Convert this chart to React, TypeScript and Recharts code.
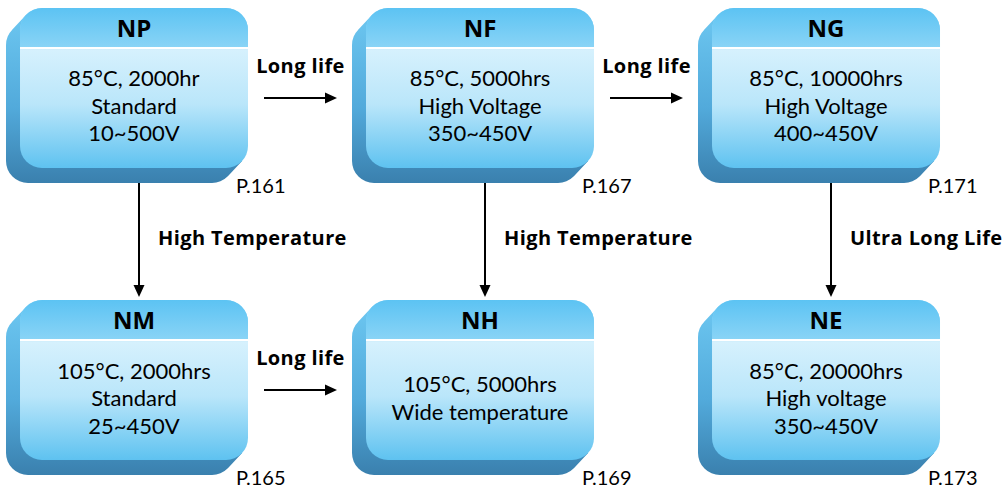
import React from "react";
import { ScatterChart, Scatter, XAxis, YAxis, ReferenceLine } from "recharts";

// series boxes
const seriesCodes = ["NP", "NF", "NG", "NM", "NH", "NE"];
const seriesColumns = [0, 1, 2, 0, 1, 2];
const seriesRows = [0, 0, 0, 1, 1, 1];
const seriesSpecs = [
    ["85°C, 2000hr", "Standard", "10~500V"],
    ["85°C, 5000hrs", "High Voltage", "350~450V"],
    ["85°C, 10000hrs", "High Voltage", "400~450V"],
    ["105°C, 2000hrs", "Standard", "25~450V"],
    ["105°C, 5000hrs", "Wide temperature"],
    ["85°C, 20000hrs", "High voltage", "350~450V"],
];
const seriesPages = ["P.161", "P.167", "P.171", "P.165", "P.169", "P.173"];

// arrows between boxes
const linkFrom = ["NP", "NF", "NM", "NP", "NF", "NG"];
const linkTo = ["NF", "NG", "NH", "NM", "NH", "NE"];
const linkLabels = [
    "Long life",
    "Long life",
    "Long life",
    "High Temperature",
    "High Temperature",
    "Ultra Long Life",
];

const nodes = seriesCodes.map((code, i) => ({
    x: seriesColumns[i],
    y: seriesRows[i],
    code,
    lines: seriesSpecs[i],
    page: seriesPages[i],
}));

const pointOf = (code: string) => {
    const i = seriesCodes.indexOf(code);
    return { x: seriesColumns[i], y: seriesRows[i] };
};

const FACE_W = 228;
const FACE_H = 160;
const DEPTH_X = 14;
const DEPTH_Y = 15;
const RADIUS = 22;
const HEADER = 40;

const bodyFont = "Lato, 'Open Sans', sans-serif";
const boldFont = "'Open Sans', Lato, sans-serif";

const roundedRect = (x: number, y: number, w: number, h: number, r: number) =>
    `M${x + r},${y} H${x + w - r} A${r},${r} 0 0 1 ${x + w},${y + r} V${y + h - r} ` +
    `A${r},${r} 0 0 1 ${x + w - r},${y + h} H${x + r} A${r},${r} 0 0 1 ${x},${y + h - r} ` +
    `V${y + r} A${r},${r} 0 0 1 ${x + r},${y} Z`;

const topRounded = (x: number, y: number, w: number, h: number, r: number) =>
    `M${x},${y + h} L${x},${y + r} A${r},${r} 0 0 1 ${x + r},${y} ` +
    `L${x + w - r},${y} A${r},${r} 0 0 1 ${x + w},${y + r} L${x + w},${y + h} Z`;

// back face plus the band swept between it and the front face
const sidePath = (fx: number, fy: number) => {
    const len = Math.hypot(DEPTH_X, DEPTH_Y);
    const nx = (DEPTH_Y / len) * RADIUS;
    const ny = (DEPTH_X / len) * RADIUS;
    const tl = { x: fx + RADIUS - nx, y: fy + RADIUS - ny };
    const br = { x: fx + FACE_W - RADIUS + nx, y: fy + FACE_H - RADIUS + ny };
    const band =
        `M${tl.x},${tl.y} L${br.x},${br.y} L${br.x - DEPTH_X},${br.y + DEPTH_Y} ` +
        `L${tl.x - DEPTH_X},${tl.y + DEPTH_Y} Z`;
    return roundedRect(fx - DEPTH_X, fy + DEPTH_Y, FACE_W, FACE_H, RADIUS) + " " + band;
};

const SeriesBox = (props: any) => {
    const { cx, cy, payload } = props;
    const fx = cx - FACE_W / 2;
    const fy = cy - 87;
    const n = payload.lines.length;
    return (
        <g>
            <path d={sidePath(fx, fy)} fill="url(#sideFill)" />
            <rect x={fx} y={fy} width={FACE_W} height={FACE_H} rx={RADIUS} fill="url(#bodyFill)" />
            <path d={topRounded(fx, fy, FACE_W, HEADER, RADIUS)} fill="url(#headFill)" />
            <line x1={fx} y1={fy + HEADER} x2={fx + FACE_W} y2={fy + HEADER} stroke="#ffffff" strokeWidth={2} />
            <text
                x={cx}
                y={fy + 29}
                textAnchor="middle"
                fontFamily={boldFont}
                fontWeight={700}
                fontSize={24}
                fill="#000"
            >
                {payload.code}
            </text>
            {payload.lines.map((line: string, i: number) => (
                <text
                    key={line}
                    x={cx}
                    y={fy + 106 + (i - (n - 1) / 2) * 27.5}
                    textAnchor="middle"
                    fontFamily={bodyFont}
                    fontSize={22}
                    fill="#000"
                >
                    {line}
                </text>
            ))}
            <text x={fx + FACE_W - 12} y={fy + FACE_H + 25} fontFamily={bodyFont} fontSize={20} fill="#000">
                {payload.page}
            </text>
        </g>
    );
};

const LinkArrow = (props: any) => {
    const { x1, y1, x2, y2, text } = props;
    const across = Math.abs(y2 - y1) < 1;
    if (across) {
        const y = y1 + 3;
        const a = x1 + 130;
        const b = x2 - 143;
        return (
            <g>
                <line x1={a} y1={y} x2={b - 10} y2={y} stroke="#000" strokeWidth={2} />
                <polygon points={`${b},${y} ${b - 12},${y - 5.5} ${b - 12},${y + 5.5}`} fill="#000" />
                <text
                    x={(a + b) / 2}
                    y={y - 25}
                    textAnchor="middle"
                    fontFamily={boldFont}
                    fontWeight={700}
                    fontSize={20}
                    letterSpacing={0.4}
                    fill="#000"
                >
                    {text}
                </text>
            </g>
        );
    }
    const x = x1 + 5;
    const a = y1 + 83;
    const b = y2 - 90;
    return (
        <g>
            <line x1={x} y1={a} x2={x} y2={b - 10} stroke="#000" strokeWidth={2} />
            <polygon points={`${x},${b} ${x - 5.5},${b - 12} ${x + 5.5},${b - 12}`} fill="#000" />
            <text
                x={x + 19}
                y={(a + b) / 2 + 8}
                fontFamily={boldFont}
                fontWeight={700}
                fontSize={20}
                letterSpacing={0.4}
                fill="#000"
            >
                {text}
            </text>
        </g>
    );
};

const App = () => {
    return (
        <div style={{ position: "absolute", left: 0, top: 0, width: 1006, height: 490, background: "#fff" }}>
            <ScatterChart width={1006} height={490} margin={{ top: 0, right: 0, bottom: 0, left: 0 }}>
                <defs>
                    <linearGradient id="sideFill" x1="0" y1="0" x2="0" y2="1">
                        <stop offset="0%" stopColor="#6cc6f0" />
                        <stop offset="55%" stopColor="#52aadb" />
                        <stop offset="100%" stopColor="#3a80ae" />
                    </linearGradient>
                    <linearGradient id="headFill" x1="0" y1="0" x2="0" y2="1">
                        <stop offset="0%" stopColor="#5cc3f3" />
                        <stop offset="100%" stopColor="#8ad4f6" />
                    </linearGradient>
                    <linearGradient id="bodyFill" x1="0" y1="0" x2="0" y2="1">
                        <stop offset="0%" stopColor="#8ad4f6" />
                        <stop offset="25%" stopColor="#8ad4f6" />
                        <stop offset="26%" stopColor="#d6f1fd" />
                        <stop offset="60%" stopColor="#bae6fa" />
                        <stop offset="100%" stopColor="#5ec2f0" />
                    </linearGradient>
                </defs>
                <XAxis type="number" dataKey="x" domain={[-0.3873, 2.5202]} allowDataOverflow hide />
                <YAxis type="number" dataKey="y" domain={[-0.3253, 1.3527]} allowDataOverflow reversed hide />
                <Scatter data={nodes} shape={(p: any) => <SeriesBox {...p} />} isAnimationActive={false} />
                {linkFrom.map((from, i) => (
                    <ReferenceLine
                        key={from + linkTo[i]}
                        segment={[pointOf(from), pointOf(linkTo[i])]}
                        shape={(p: any) => <LinkArrow {...p} text={linkLabels[i]} />}
                    />
                ))}
            </ScatterChart>
        </div>
    );
};

export default App;
